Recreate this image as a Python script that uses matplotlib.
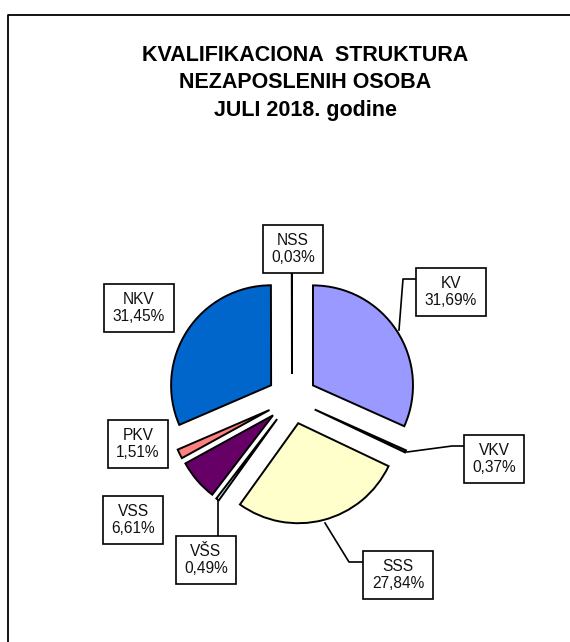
# Kvalifikaciona struktura nezaposlenih osoba - pie chart

import numpy as np
import matplotlib.pyplot as plt
from matplotlib.lines import Line2D

plt.rcParams['font.family'] = ['Liberation Sans', 'DejaVu Sans']

# Data (clockwise from 12 o'clock)
categories = ['KV', 'VKV', 'SSS', 'VŠS', 'VSS', 'PKV', 'NKV', 'NSS']
shares = [31.69, 0.37, 27.84, 0.49, 6.61, 1.51, 31.45, 0.03]
colors = ['#9999FF', '#993366', '#FFFFCC', '#CCFFFF', '#660066', '#FF8080', '#0066CC', '#CCCCFF']
title_lines = ['KVALIFIKACIONA  STRUKTURA', 'NEZAPOSLENIH OSOBA', 'JULI 2018. godine']

W, H = 570, 642

# label box centres and leader lines, in pixel coordinates (y down)
label_pos = {
    'KV': (451, 292), 'VKV': (494, 459), 'SSS': (398, 575), 'VŠS': (206, 560),
    'VSS': (133, 520), 'PKV': (138, 444), 'NKV': (139, 308), 'NSS': (293, 249),
}
leaders = {
    'KV': [(399, 330), (403, 279), (415, 279)],
    'VKV': [(407, 452), (452, 446), (463, 446)],
    'SSS': [(325, 523), (349, 562), (362, 562)],
    'VŠS': [(218, 500), (218, 536)],
}

fig = plt.figure(figsize=(W / 100, H / 100), dpi=100)
ax = fig.add_axes([0, 0, 1, 1])

center = (292, H - 399)
ax.pie(shares, colors=colors, startangle=90, counterclock=False,
       radius=100, center=center, explode=[25] * len(shares),
       wedgeprops=dict(edgecolor='black', linewidth=1.4))

ax.set_xlim(0, W)
ax.set_ylim(0, H)
ax.set_aspect('equal')
ax.axis('off')

# outer frame (runs off the right and bottom)
ax.plot([8, 8, W + 10], [-10, H - 15, H - 15], color='black', lw=1.3, clip_on=False)

# title
for i, line in enumerate(title_lines):
    ax.text(305, H - (61 + i * 27.5), line, ha='center', va='baseline',
            fontsize=15.5, fontweight='bold', color='black')

# leader lines
for name, pts in leaders.items():
    xs = [p[0] for p in pts]
    ys = [H - p[1] for p in pts]
    ax.add_line(Line2D(xs, ys, color='black', lw=1.2))

# data labels
for name, val in zip(categories, shares):
    x, y = label_pos[name]
    txt = '%s\n%s%%' % (name, ('%.2f' % val).replace('.', ','))
    ax.text(x, H - y, txt, ha='center', va='center', fontsize=11.2,
            color='#111111', linespacing=1.1,
            bbox=dict(boxstyle='square,pad=0.55', facecolor='white',
                      edgecolor='black', linewidth=1.2))

plt.savefig('out.png', dpi=100)
